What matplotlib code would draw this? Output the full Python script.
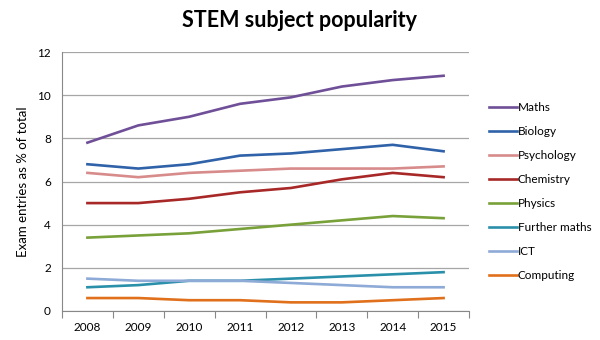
import matplotlib

matplotlib.use("Agg")
import matplotlib.pyplot as plt
import numpy as np

plt.rcParams["font.family"] = ["Lato", "DejaVu Sans"]

years = ["2008", "2009", "2010", "2011", "2012", "2013", "2014", "2015"]

maths = [7.8, 8.6, 9.0, 9.6, 9.9, 10.4, 10.7, 10.9]
biology = [6.8, 6.6, 6.8, 7.2, 7.3, 7.5, 7.7, 7.4]
psychology = [6.4, 6.2, 6.4, 6.5, 6.6, 6.6, 6.6, 6.7]
chemistry = [5.0, 5.0, 5.2, 5.5, 5.7, 6.1, 6.4, 6.2]
physics = [3.4, 3.5, 3.6, 3.8, 4.0, 4.2, 4.4, 4.3]
further_maths = [1.1, 1.2, 1.4, 1.4, 1.5, 1.6, 1.7, 1.8]
ict = [1.5, 1.4, 1.4, 1.4, 1.3, 1.2, 1.1, 1.1]
computing = [0.6, 0.6, 0.5, 0.5, 0.4, 0.4, 0.5, 0.6]

series = [
    ("Maths", maths, "#6f4f97"),
    ("Biology", biology, "#2f62a8"),
    ("Psychology", psychology, "#d88b8b"),
    ("Chemistry", chemistry, "#a82828"),
    ("Physics", physics, "#79a13a"),
    ("Further maths", further_maths, "#2a90aa"),
    ("ICT", ict, "#8eaad6"),
    ("Computing", computing, "#e0701c"),
]

fig = plt.figure(figsize=(6, 3.4), dpi=100)
ax = fig.add_axes([0.1033, 0.0853, 0.6784, 0.7617])

x = np.arange(len(years))
for name, vals, color in series:
    ax.plot(x, vals, color=color, lw=1.9, label=name, solid_joinstyle="round")

ax.set_xlim(-0.5, len(years) - 0.5)
ax.set_ylim(0, 12)
ax.set_yticks(np.arange(0, 13, 2))
ax.set_xticks(x)
ax.set_xticklabels(years)
ax.set_xticks(np.arange(-0.5, len(years)), minor=True)
ax.tick_params(axis="x", which="major", length=0, pad=8, labelsize=8.5)
ax.tick_params(axis="x", which="minor", length=5, color="#888888", width=0.8)
ax.tick_params(axis="y", length=0, pad=8, labelsize=8.5)

ax.grid(axis="y", color="#a6a6a6", lw=0.9)
ax.set_axisbelow(True)
for side in ("top", "right"):
    ax.spines[side].set_visible(False)
for side in ("left", "bottom"):
    ax.spines[side].set_color("#888888")
    ax.spines[side].set_linewidth(0.8)

ax.set_ylabel("Exam entries as % of total", fontsize=9.5, labelpad=6)
fig.suptitle("STEM subject popularity", fontsize=15.5, fontweight="bold", x=0.5, y=0.97)

fig.legend(loc="upper left", bbox_to_anchor=(0.797, 0.73), frameon=False,
           fontsize=8.5, handlelength=2.4, handletextpad=0.05, labelspacing=1.1)

fig.savefig("out.png", dpi=100)
